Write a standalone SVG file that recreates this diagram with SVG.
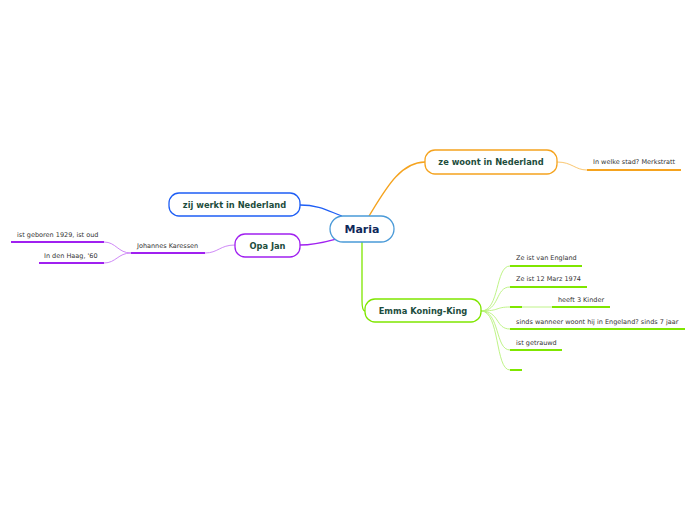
<svg xmlns="http://www.w3.org/2000/svg" width="696" height="520" viewBox="0 0 696 520">
<style>
.box{fill:#fff;stroke-width:1.3}
.nt{font-family:"DejaVu Sans",Verdana,sans-serif;font-weight:bold;font-size:8.3px;fill:#1d4d3d;text-anchor:middle}
.st{font-family:"DejaVu Sans",Verdana,sans-serif;font-size:6.5px;fill:#333}
.ul{fill:none;stroke-width:2}
.c{fill:none;stroke-width:1.3}
.cs{fill:none;stroke-width:0.9}
</style>
<rect width="696" height="520" fill="#fff"/>
<g id="connectors">
<path class="c" d="M369,216 C385,190 400,162 425,162" stroke="#f5a31e"/>
<path class="c" d="M300,205 C320,205 330,212 342,216" stroke="#1e5ef5"/>
<path class="c" d="M300,245 C315,245 325,242 336,239" stroke="#a020f0"/>
<path class="c" d="M362,242 L362,300 C362,308 363,311 365,311" stroke="#7fe600"/>
<path class="cs" d="M557,162 C572,162 575,170 587,170" stroke="#f8c060"/>
<path class="ul" d="M587,170 L681,170" stroke="#f5a31e"/>
<path class="cs" d="M235,245 C220,245 218,253 205,253" stroke="#c87af5"/>
<path class="ul" d="M131,253 L205,253" stroke="#a020f0"/>
<path class="cs" d="M131,253 C118,253 116,242 104,242" stroke="#c87af5"/>
<path class="cs" d="M131,253 C118,253 116,263 104,263" stroke="#c87af5"/>
<path class="ul" d="M11,242 L104,242" stroke="#a020f0"/>
<path class="ul" d="M39,263 L104,263" stroke="#a020f0"/>
<g stroke="#b8f27a">
<path class="cs" d="M481,311 C500,311 495,266 510,266"/>
<path class="cs" d="M481,311 C500,311 495,287 510,287"/>
<path class="cs" d="M481,311 C500,311 495,307 510,307"/>
<path class="cs" d="M481,311 C500,311 495,329 510,329"/>
<path class="cs" d="M481,311 C500,311 495,350 510,350"/>
<path class="cs" d="M481,311 C500,311 495,370 510,370"/>
<path class="cs" d="M522,307 L552,307"/>
</g>
<g class="ul" stroke="#7fe600">
<path d="M510,266 L582,266"/>
<path d="M510,287 L587,287"/>
<path d="M510,307 L522,307"/>
<path d="M552,307 L610,307"/>
<path d="M510,329 L685,329"/>
<path d="M510,350 L562,350"/>
<path d="M510,370 L522,370"/>
</g>
</g>
<g id="maria">
<rect class="box" x="330" y="216" width="64" height="26" rx="13" stroke="#4a9ad8"/>
<text x="362" y="233" font-family="DejaVu Sans,Verdana,sans-serif" font-weight="bold" font-size="11" fill="#10285a" text-anchor="middle">Maria</text>
</g>
<g id="ze-woont">
<rect class="box" x="425" y="150" width="132" height="24" rx="10" stroke="#f5a31e"/>
<text class="nt" x="491" y="165">ze woont in Nederland</text>
</g>
<g id="zij-werkt">
<rect class="box" x="169" y="193" width="131" height="23" rx="10" stroke="#1e5ef5"/>
<text class="nt" x="234.5" y="208">zij werkt in Nederland</text>
</g>
<g id="opa-jan">
<rect class="box" x="235" y="234" width="65" height="23" rx="10" stroke="#a020f0"/>
<text class="nt" x="267.5" y="249">Opa Jan</text>
</g>
<g id="emma">
<rect class="box" x="365" y="299" width="116" height="23" rx="10" stroke="#7fe600"/>
<text class="nt" x="423" y="314">Emma Koning-King</text>
</g>
<g id="merkstratt"><text class="st" x="593" y="164">In welke stad? Merkstratt</text></g>
<g id="johannes"><text class="st" x="137" y="248">Johannes Karessen</text></g>
<g id="geboren"><text class="st" x="17" y="237">ist geboren 1929, ist oud</text></g>
<g id="haag"><text class="st" x="44" y="258">In den Haag, '60</text></g>
<g id="england"><text class="st" x="516" y="260">Ze ist van England</text></g>
<g id="marz"><text class="st" x="516" y="281">Ze ist 12 Marz 1974</text></g>
<g id="kinder"><text class="st" x="558" y="302">heeft 3 Kinder</text></g>
<g id="sinds"><text class="st" x="516" y="324">sinds wanneer woont hij in Engeland? sinds 7 jaar</text></g>
<g id="getrauwd"><text class="st" x="516" y="345">ist getrauwd</text></g>
<g id="empty"></g>
</svg>
